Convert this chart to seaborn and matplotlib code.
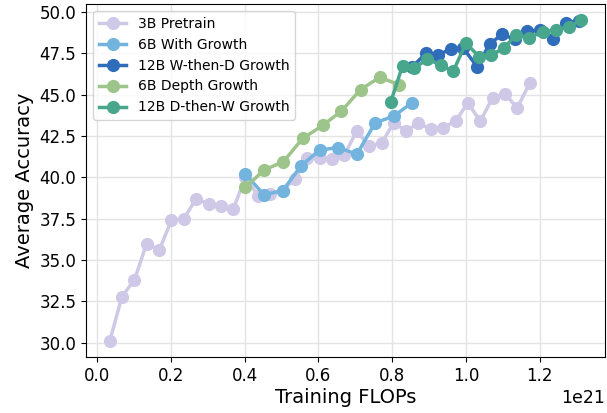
import matplotlib
matplotlib.use("Agg")
import matplotlib.pyplot as plt
import numpy as np
import pandas as pd
import seaborn as sns

# Training compute (units of 1e21 FLOPs) and average accuracy per run
pretrain_3b_flops = [0.034, 0.067, 0.101, 0.134, 0.168, 0.201, 0.235, 0.268, 0.302,
                     0.335, 0.369, 0.402, 0.436, 0.469, 0.503, 0.536, 0.570, 0.603,
                     0.637, 0.670, 0.704, 0.737, 0.771, 0.804, 0.838, 0.871, 0.905,
                     0.938, 0.972, 1.005, 1.039, 1.072, 1.106, 1.139, 1.173]
pretrain_3b_acc = [30.1, 32.8, 33.8, 36.0, 35.6, 37.4, 37.5, 38.7, 38.4,
                   38.3, 38.1, 40.0, 38.9, 39.0, 39.2, 39.9, 41.2, 41.2,
                   41.1, 41.35, 42.8, 41.9, 42.05, 43.3, 42.8, 43.3, 42.9,
                   43.0, 43.4, 44.5, 43.4, 44.8, 45.05, 44.2, 45.7]

growth_6b_flops = [0.402, 0.452, 0.503, 0.553, 0.603, 0.653, 0.704, 0.754, 0.804, 0.853]
growth_6b_acc = [40.2, 38.95, 39.2, 40.7, 41.65, 41.8, 41.4, 43.3, 43.7, 44.5]

wd_12b_flops = [0.855, 0.892, 0.923, 0.959, 0.993, 1.030, 1.064, 1.098, 1.132,
                1.166, 1.201, 1.235, 1.271, 1.307]
wd_12b_acc = [46.7, 47.5, 47.4, 47.75, 47.8, 46.7, 48.05, 48.65, 48.35,
              48.85, 48.9, 48.35, 49.35, 49.45]

depth_6b_flops = [0.402, 0.453, 0.505, 0.557, 0.612, 0.662, 0.714, 0.766, 0.819]
depth_6b_acc = [39.4, 40.45, 40.95, 42.35, 43.15, 44.0, 45.3, 46.05, 45.6]

dw_12b_flops = [0.796, 0.828, 0.860, 0.895, 0.931, 0.965, 1.000, 1.036, 1.068,
                1.102, 1.136, 1.172, 1.208, 1.243, 1.279, 1.312]
dw_12b_acc = [44.55, 46.75, 46.6, 47.15, 46.8, 46.4, 48.1, 47.3, 47.4,
              47.8, 48.6, 48.45, 48.8, 48.9, 49.1, 49.5]

run_names = ["3B Pretrain", "6B With Growth", "12B W-then-D Growth",
             "6B Depth Growth", "12B D-then-W Growth"]
run_colors = ["#cfc9e7", "#72b4de", "#2f6dba", "#9dc58b", "#47a68c"]

runs = [
    (pretrain_3b_flops, pretrain_3b_acc),
    (growth_6b_flops, growth_6b_acc),
    (wd_12b_flops, wd_12b_acc),
    (depth_6b_flops, depth_6b_acc),
    (dw_12b_flops, dw_12b_acc),
]

frames = []
for name, (flops, acc) in zip(run_names, runs):
    frames.append(pd.DataFrame({
        "flops": np.asarray(flops) * 1e21,
        "acc": acc,
        "run": name,
    }))
df = pd.concat(frames, ignore_index=True)

fig, ax = plt.subplots(figsize=(6.07, 4.13), dpi=100)
fig.subplots_adjust(left=0.142, right=0.996, top=0.99, bottom=0.135)

sns.lineplot(data=df, x="flops", y="acc", hue="run", hue_order=run_names,
             palette=dict(zip(run_names, run_colors)), units="run",
             estimator=None, sort=False, marker="o", markersize=9.5,
             markeredgewidth=0, linewidth=2.5, ax=ax)

ax.grid(True, color="#e3e3e3", linewidth=1.0)
ax.set_axisbelow(True)
ax.set_yticks([30.0, 32.5, 35.0, 37.5, 40.0, 42.5, 45.0, 47.5, 50.0])
ax.set_xticks([0.0, 0.2e21, 0.4e21, 0.6e21, 0.8e21, 1.0e21, 1.2e21])
ax.tick_params(labelsize=12)
ax.xaxis.get_offset_text().set_fontsize(12.5)
ax.set_xlabel("Training FLOPs", fontsize=14, labelpad=2)
ax.set_ylabel("Average Accuracy", fontsize=14, labelpad=4)

ax.legend(loc="upper left", fontsize=10, framealpha=0.8)

fig.savefig("out.png", dpi=100)
